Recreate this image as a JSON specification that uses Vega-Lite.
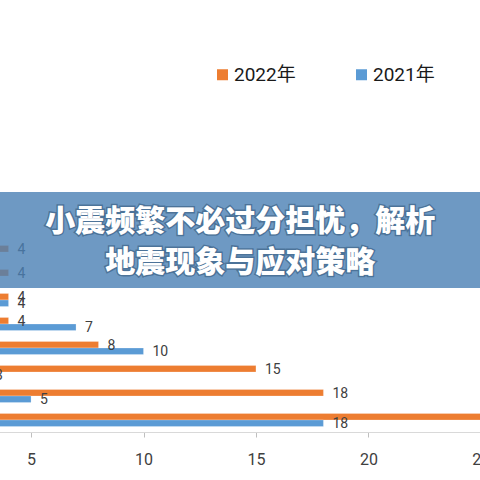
{
  "$schema": "https://vega.github.io/schema/vega-lite/v6.json",
  "width": 480,
  "height": 432,
  "autosize": "none",
  "padding": {"left": 0, "top": 0, "right": 0, "bottom": 48},
  "background": "white",
  "config": {
    "view": {"stroke": null},
    "font": "Roboto, Noto Sans CJK SC"
  },
  "data": {
    "values": [
      {"cat": "c1", "year": "2022年", "value": 26},
      {"cat": "c1", "year": "2021年", "value": 18},
      {"cat": "c2", "year": "2022年", "value": 18},
      {"cat": "c2", "year": "2021年", "value": 5},
      {"cat": "c3", "year": "2022年", "value": 15},
      {"cat": "c3", "year": "2021年", "value": 3},
      {"cat": "c4", "year": "2022年", "value": 8},
      {"cat": "c4", "year": "2021年", "value": 10},
      {"cat": "c5", "year": "2022年", "value": 4},
      {"cat": "c5", "year": "2021年", "value": 7},
      {"cat": "c6", "year": "2022年", "value": 4},
      {"cat": "c6", "year": "2021年", "value": 4},
      {"cat": "c7", "year": "2022年", "value": 4},
      {"cat": "c8", "year": "2022年", "value": 4}
    ]
  },
  "encoding": {
    "y": {
      "field": "cat",
      "type": "nominal",
      "axis": null,
      "scale": {
        "domain": ["c10", "c9", "c8", "c7", "c6", "c5", "c4", "c3", "c2", "c1"],
        "range": [192, 432],
        "paddingInner": 0,
        "paddingOuter": 0
      }
    },
    "x": {
      "field": "value",
      "type": "quantitative",
      "scale": {"domain": [0, 25], "range": [-81.4, 480.85], "nice": false},
      "axis": {
        "title": null,
        "grid": false,
        "values": [0, 5, 10, 15, 20, 25],
        "domainColor": "#d9d9d9",
        "tickColor": "#bfbfbf",
        "tickSize": 5,
        "labelFontSize": 16,
        "labelColor": "#404040",
        "labelPadding": 14,
        "labelFlush": false,
        "labelOverlap": false
      }
    }
  },
  "layer": [
    {
      "mark": {"type": "bar", "clip": true, "stroke": "#ffffff", "strokeWidth": 0.4, "strokeOpacity": 0.6},
      "encoding": {
        "yOffset": {
          "field": "year",
          "scale": {"domain": ["2022年", "2021年"], "paddingInner": 0, "paddingOuter": 0.846}
        },
        "color": {
          "field": "year",
          "type": "nominal",
          "scale": {"domain": ["2022年", "2021年"], "range": ["#ED7D31", "#5B9BD5"]},
          "legend": {
            "title": null,
            "orient": "none",
            "legendX": 213,
            "legendY": 65,
            "direction": "horizontal",
            "symbolType": "square",
            "symbolSize": 121,
            "symbolStrokeWidth": 0,
            "labelFontSize": 19,
            "labelColor": "#1a1a1a",
            "labelOffset": 2,
            "columnPadding": 56
          }
        }
      }
    },
    {
      "mark": {"type": "text", "align": "left", "baseline": "middle", "dx": 9, "dy": 1, "fontSize": 14, "color": "#404040"},
      "encoding": {
        "yOffset": {"field": "year"},
        "text": {"field": "value", "type": "quantitative"}
      }
    },
    {
      "transform": [{"filter": "datum.cat === 'c1' && datum.year === '2022年'"}],
      "mark": {"type": "rect", "clip": true, "color": "#4a80b4", "opacity": 0.8},
      "encoding": {
        "y": {"datum": "c10", "bandPosition": 0},
        "y2": {"datum": "c7", "bandPosition": 1},
        "x": {"datum": 0},
        "x2": {"datum": 26}
      }
    },
    {
      "transform": [{"filter": "datum.cat === 'c1' && datum.year === '2022年'"}],
      "mark": {
        "type": "text",
        "font": "Noto Sans CJK SC",
        "fontWeight": 900,
        "fontSize": 30,
        "lineHeight": 41,
        "align": "center",
        "baseline": "middle",
        "dy": -18,
        "color": "#ffffff",
        "stroke": "#35597d",
        "strokeWidth": 3,
        "strokeOpacity": 0.6
      },
      "encoding": {
        "text": {"value": ["小震频繁不必过分担忧，解析", "地震现象与应对策略"]},
        "y": {"datum": "c9", "bandPosition": 1},
        "x": {"datum": 14.3}
      }
    },
    {
      "transform": [{"filter": "datum.cat === 'c1' && datum.year === '2022年'"}],
      "mark": {
        "type": "text",
        "font": "Noto Sans CJK SC",
        "fontWeight": 900,
        "fontSize": 30,
        "lineHeight": 41,
        "align": "center",
        "baseline": "middle",
        "dy": -18,
        "color": "#ffffff"
      },
      "encoding": {
        "text": {"value": ["小震频繁不必过分担忧，解析", "地震现象与应对策略"]},
        "y": {"datum": "c9", "bandPosition": 1},
        "x": {"datum": 14.3}
      }
    }
  ]
}
